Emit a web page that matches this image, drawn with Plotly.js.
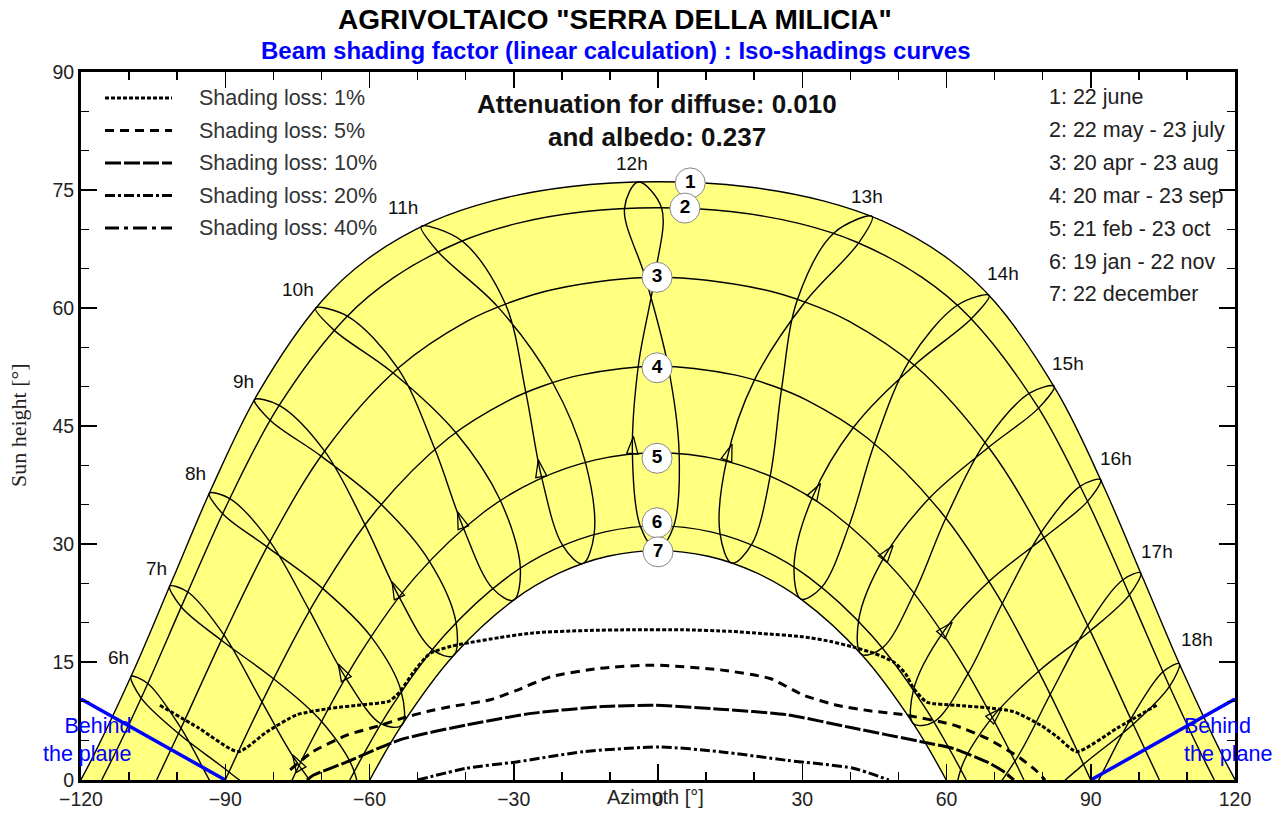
<!DOCTYPE html>
<html><head><meta charset="utf-8">
<script src="https://cdn.plot.ly/plotly-3.0.1.min.js"></script>
<style>html,body{margin:0;padding:0;background:#fff}#chart{width:1283px;height:817px}</style>
</head><body><div id="chart"></div>
<script>
// ---- sun path date curves (azimuth, height) ----
const d1Az = [-120.05,-117.44,-109.0,-100.97,-92.69,-83.14,-70.04,-60.47,-46.9,-34.37,-18.49,0,18.49,34.37,46.9,60.47,70.04,83.14,92.69,100.97,109.0,117.44,120.05];
const d1El = [0,3.04,13.98,25.48,37.31,49.20,60.79,66.20,71.0,73.62,75.42,76.04,75.42,73.62,71.0,66.20,60.79,49.20,37.31,25.48,13.98,3.04,0];
const d2Az = [-115.70,-111.96,-106.25,-97.92,-89.19,-78.96,-64.88,-54.83,-41.24,-29.51,-15.54,0,15.54,29.51,41.24,54.83,64.88,78.96,89.19,97.92,106.25,111.96,115.70];
const d2El = [0,4.58,12.08,23.72,35.60,47.45,58.80,63.93,68.39,70.72,72.23,72.75,72.23,70.72,68.39,63.93,58.80,47.45,35.60,23.72,12.08,4.58,0];
const d3Az = [-104.28,-99.02,-90.09,-80.49,-69.05,-53.70,-39.69,-31.16,-21.55,0,21.55,31.16,39.69,53.70,69.05,80.49,90.09,99.02,104.28];
const d3El = [0,6.83,18.70,30.56,42.05,52.52,58.33,60.63,62.39,63.90,62.39,60.63,58.33,52.52,42.05,30.56,18.70,6.83,0];
const d4Az = [-90,-80.76,-70.68,-58.73,-43.55,-30.93,-23.81,-16.18,0,16.18,23.81,30.93,43.55,58.73,70.68,80.76,90];
const d4El = [0,11.87,23.40,34.17,43.47,48.29,50.12,51.47,52.6,51.47,50.12,48.29,43.47,34.17,23.40,11.87,0];
const d5Az = [-76.10,-72.12,-62.12,-50.45,-36.31,-25.25,-12.99,0,12.99,25.25,36.31,50.45,62.12,72.12,76.10];
const d5El = [0,4.93,15.90,25.82,34.01,38.09,40.69,41.60,40.69,38.09,34.01,25.82,15.90,4.93,0];
const d6Az = [-64.11,-55.40,-44.35,-31.37,-21.58,-11.01,0,11.01,21.58,31.37,44.35,55.40,64.11];
const d6El = [0,9.32,18.43,25.76,29.31,31.54,32.30,31.54,29.31,25.76,18.43,9.32,0];
const d7Az = [-59.95,-53.19,-42.42,-29.88,-20.49,-10.44,0,10.44,20.49,29.88,42.42,53.19,59.95];
const d7El = [0,7.06,15.89,22.93,26.32,28.44,29.16,28.44,26.32,22.93,15.89,7.06,0];

// ---- hour lines (analemmas), Dec22 .. Nov22 ----
const h06Az = [-71.09,-75.46,-83.62,-91.52,-99.21,-106.12,-109.59,-107.48,-99.72,-89.22,-79.23,-71.98,-71.09];
const h06El = [-14.11,-14.69,-9.85,-1.99,6.58,12.26,13.17,10.40,5.90,1.02,-4.04,-9.94,-14.11];
const h07Az = [-62.65,-66.93,-74.67,-82.35,-90.28,-97.79,-101.55,-99.15,-90.81,-79.95,-70.01,-63.18,-62.65];
const h07El = [-3.15,-3.4,1.87,9.91,18.45,23.90,24.64,21.99,17.76,12.87,7.46,1.07,-3.15];
const h08Az = [-53.30,-57.65,-65.01,-72.48,-80.71,-89.05,-93.32,-90.54,-81.30,-69.76,-59.73,-53.40,-53.30];
const h08El = [6.95,7.16,13.06,21.53,30.31,35.78,36.45,33.85,29.64,24.36,18.25,11.24,6.95];
const h09Az = [-42.55,-46.98,-53.90,-60.95,-69.33,-78.78,-83.91,-80.66,-70.07,-57.59,-47.60,-42.02,-42.55];
const h09El = [15.80,16.60,23.34,32.47,41.81,47.63,48.35,45.73,41.17,35.04,27.87,20.06,15.80];
const h10Az = [-30.03,-34.45,-40.52,-46.43,-54.09,-64.61,-71.22,-67.44,-55.14,-42.07,-32.83,-28.63,-30.03];
const h10El = [22.86,24.39,32.11,42.10,52.32,58.97,59.98,57.22,51.76,44.17,35.59,26.97,22.86];
const h11Az = [-15.70,-19.87,-24.22,-27.50,-31.74,-40.75,-49.26,-45.89,-33.30,-21.92,-15.14,-13.28,-15.70];
const h11El = [27.50,29.86,38.53,49.32,60.50,68.51,70.37,67.24,60.14,50.53,40.47,31.26,27.50];
const h12Az = [-0.18,-3.66,-5.32,-4.12,-0.71,0.73,-4.11,-6.97,-2.63,2.11,4.40,3.25,-0.18];
const h12El = [29.16,32.22,41.45,52.53,63.90,72.75,76.01,72.64,63.87,52.58,41.50,32.23,29.16];
const h13Az = [15.36,12.89,14.28,20.12,30.58,41.73,44.54,36.59,29.02,25.70,23.36,19.48,15.36];
const h13El = [27.58,31.34,40.65,50.92,60.76,68.27,71.63,69.54,61.12,49.71,38.71,29.94,27.58];
const h14Az = [29.73,28.29,32.10,40.67,53.31,65.15,68.86,62.32,52.26,45.03,39.79,34.11,29.73];
const h14El = [23.00,27.13,35.92,44.84,52.73,58.63,61.60,60.38,53.28,42.77,32.43,24.55,23.00];
const h15Az = [42.29,41.72,47.00,56.51,68.77,79.14,82.37,77.26,68.03,59.87,53.30,46.68,42.29];
const h15El = [15.98,20.26,28.30,35.87,42.29,47.27,50.05,49.17,42.93,33.30,23.77,16.80,15.98];
const h16Az = [53.08,53.15,59.23,68.88,80.27,89.33,92.06,87.84,79.68,71.60,64.51,57.40,53.08];
const h16El = [7.17,11.48,18.74,25.27,30.81,35.42,38.17,37.35,31.48,22.44,13.55,7.40,7.17];
const h17Az = [62.45,62.96,69.57,79.17,89.90,98.05,100.39,96.69,89.37,81.57,74.23,66.71,62.45];
const h17El = [-2.9,1.33,7.99,13.83,18.95,23.54,26.32,25.45,19.64,10.87,2.40,-3.15,-2.9];
const h18Az = [70.9,71.77,78.81,88.48,98.83,106.38,108.41,105.02,98.32,90.78,83.21,75.25,70.9];
const h18El = [-13.85,-9.66,-3.49,1.99,7.08,11.90,14.79,13.76,7.76,-1.02,-9.29,-14.41,-13.85];

// ---- iso-shading curves ----
const iso1Az = [-103.6,-95.5,-87.3,-81.4,-75.1,-68.2,-61.0,-56.0,-53.7,-51.0,-47.4,-43.0,-39.8,-33.0,-26.0,-15.0,-5.0,5.0,15.0,22.0,30.2,36.0,40.6,45.0,49.0,51.5,53.1,55.9,62.0,68.3,73.9,79.5,83.0,87.1,95.5,103.7];
const iso1El = [9.5,6.6,3.6,6.1,8.3,9.1,9.6,10.0,11.2,13.6,16.1,17.0,17.4,18.1,18.7,19.0,19.1,19.1,18.9,18.6,18.2,17.6,16.9,16.1,15.0,13.5,11.7,9.9,9.5,9.2,8.7,7.0,5.5,3.6,6.6,9.5];
const iso5Az = [-76.5,-71.8,-64.7,-58.0,-53.0,-48.0,-43.3,-34.9,-29.4,-22.5,-12.1,-1.0,13.0,23.3,30.2,37.2,44.0,51.0,61.4,68.4,75.3,78.8,80.5];
const iso5El = [1.3,3.6,5.7,6.9,7.9,8.7,9.3,10.2,11.4,13.1,14.2,14.6,14.0,12.9,10.8,9.5,8.8,8.3,7.0,5.3,2.8,1.1,0];
const iso10Az = [-73.0,-71.7,-64.7,-53.7,-39.8,-25.9,-12.1,-1.0,12.9,26.8,40.6,54.5,61.4,68.4,71.8,74.0];
const iso10El = [0,0.6,2.3,5.1,7.0,8.5,9.3,9.5,9.0,8.3,6.6,4.9,4.0,2.3,1.1,0];
const iso20Az = [-50,-39.8,-29.4,-15.5,0.4,12.9,26.8,40.6,48];
const iso20El = [0,1.5,2.3,3.6,4.2,3.6,2.5,1.5,0];

// ---- "behind the plane" limits ----
const planeLeftAz = [-120,-90];
const planeLeftEl = [10.3,0];
const planeRightAz = [90,120];
const planeRightEl = [0,10.3];

// ---- direction arrows on hour lines ----
const arrowAz = [-76.0,-66.5,-55.3,-41.7,-24.9,-5.1,15.4,33.8,48.9,61.2,71.5];
const arrowEl = [3.2,14.75,25.17,34.11,40.69,43.67,42.70,37.70,29.81,20.05,9.16];
const arrowAngle = [-30,-28,-25,-20,-10,4,19,30,37,42,45];

// ---- labels ----
const hourLabels = ['6h','7h','8h','9h','10h','11h','12h','13h','14h','15h','16h','17h','18h'];
const hourLabelAz = [-112.3,-104.2,-96.1,-86.3,-74.9,-53.0,-5.4,43.5,71.8,85.3,95.3,103.8,112.1];
const hourLabelEl = [15.6,26.9,39.0,50.7,62.3,72.8,78.4,74.2,64.4,52.9,40.9,29.1,17.8];
const dateNums = ['1','2','3','4','5','6','7'];
const dateNumAz = [6.7,5.6,-0.2,-0.2,-0.2,-0.2,0];
const dateNumEl = [75.9,72.7,63.9,52.4,40.9,32.7,29.0];
const dateLegend = ['1: 22 june','2: 22 may - 23 july','3: 20 apr - 23 aug','4: 20 mar - 23 sep','5: 21 feb - 23 oct','6: 19 jan - 22 nov','7: 22 december'];
const lossLabels = ['Shading loss: 1%','Shading loss: 5%','Shading loss: 10%','Shading loss: 20%','Shading loss: 40%'];
const lossDash = ['4px,2px','9px,6px','16px,3px','10px,3px,3px,3px','14px,5px,4px,5px'];

// ---- page geometry (pixels) ----
const W = 1283, H = 817, ML = 81, MR = 48, MT = 72, MB = 37;
const PW = W - ML - MR, PH = H - MT - MB;
const pxX = x => (x - ML) / PW;
const pxY = y => (H - MB - y) / PH;
const FONT = 'Liberation Sans, Arial, sans-serif';

const thin = {color:'#000', width:1.4, shape:'spline', smoothing:1};
const traces = [];
traces.push({x:d7Az, y:d7El, mode:'lines', line:{width:0, shape:'spline'}, hoverinfo:'skip'});
traces.push({x:d1Az, y:d1El, mode:'lines', line:{width:0, shape:'spline'}, fill:'tonexty', fillcolor:'#ffff80', hoverinfo:'skip'});
[[d1Az,d1El],[d2Az,d2El],[d3Az,d3El],[d4Az,d4El],[d5Az,d5El],[d6Az,d6El],[d7Az,d7El]].forEach(c=>{
  traces.push({x:c[0], y:c[1], mode:'lines', line:thin, hoverinfo:'skip'});
});
[[h06Az,h06El],[h07Az,h07El],[h08Az,h08El],[h09Az,h09El],[h10Az,h10El],[h11Az,h11El],[h12Az,h12El],
 [h13Az,h13El],[h14Az,h14El],[h15Az,h15El],[h16Az,h16El],[h17Az,h17El],[h18Az,h18El]].forEach(c=>{
  traces.push({x:c[0], y:c[1], mode:'lines', line:thin, hoverinfo:'skip'});
});
traces.push({x:arrowAz, y:arrowEl, mode:'markers', hoverinfo:'skip',
  marker:{symbol:'arrow-open', size:18, angle:arrowAngle, color:'#000', line:{color:'#000', width:1.3}}});
[[iso1Az,iso1El,0],[iso5Az,iso5El,1],[iso10Az,iso10El,2],[iso20Az,iso20El,3]].forEach(c=>{
  traces.push({x:c[0], y:c[1], mode:'lines', hoverinfo:'skip',
    line:{color:'#000', width:3, dash:lossDash[c[2]], shape:'spline', smoothing:0.6}});
});
traces.push({x:planeLeftAz, y:planeLeftEl, mode:'lines', line:{color:'#0000ff', width:3.5}, hoverinfo:'skip'});
traces.push({x:planeRightAz, y:planeRightEl, mode:'lines', line:{color:'#0000ff', width:3.5}, hoverinfo:'skip'});
traces.push({x:dateNumAz, y:dateNumEl, mode:'markers+text', text:dateNums, textposition:'middle center',
  textfont:{family:FONT, size:19, color:'#000', weight:'bold'}, hoverinfo:'skip', cliponaxis:false,
  marker:{size:30, color:'#fff', line:{color:'#888', width:1}}});

const annotations = [];
const ann = (o) => annotations.push(Object.assign({showarrow:false, xanchor:'center', yanchor:'middle'}, o));
hourLabels.forEach((t,i)=>ann({x:hourLabelAz[i], y:hourLabelEl[i], xref:'x', yref:'y', text:t,
  font:{family:FONT, size:19, color:'#111'}}));
dateLegend.forEach((t,i)=>ann({x:pxX(1047), y:pxY(97 + i*32.9), xref:'paper', yref:'paper', text:t,
  xanchor:'left', font:{family:FONT, size:21.5, color:'#222'}}));
lossLabels.forEach((t,i)=>ann({x:pxX(197), y:pxY(98 + i*32.5), xref:'paper', yref:'paper', text:t,
  xanchor:'left', font:{family:FONT, size:21.5, color:'#333'}}));
ann({x:pxX(657), y:pxY(104), xref:'paper', yref:'paper', text:'Attenuation for diffuse: 0.010',
  font:{family:FONT, size:26, color:'#111', weight:'bold'}});
ann({x:pxX(657), y:pxY(137), xref:'paper', yref:'paper', text:'and albedo: 0.237',
  font:{family:FONT, size:26, color:'#111', weight:'bold'}});
ann({x:pxX(615), y:pxY(20), xref:'paper', yref:'paper', text:'AGRIVOLTAICO "SERRA DELLA MILICIA"',
  font:{family:FONT, size:28, color:'#000', weight:'bold'}});
ann({x:pxX(616), y:pxY(50), xref:'paper', yref:'paper', text:'Beam shading factor (linear calculation) : Iso-shadings curves',
  font:{family:FONT, size:24, color:'#0000ff', weight:'bold'}});
ann({x:pxX(133), y:pxY(740), xref:'paper', yref:'paper', text:'Behind<br>the plane',
  xanchor:'right', align:'right', font:{family:FONT, size:21.5, color:'#0000ff'}});
ann({x:pxX(1182), y:pxY(740), xref:'paper', yref:'paper', text:'Behind<br>the plane',
  xanchor:'left', align:'left', font:{family:FONT, size:21.5, color:'#0000ff'}});
ann({x:pxX(655), y:pxY(797), xref:'paper', yref:'paper', text:'Azimuth [°]',
  font:{family:FONT, size:20, color:'#222'}});
ann({x:pxX(18), y:pxY(425), xref:'paper', yref:'paper', text:'Sun height [°]', textangle:-90,
  font:{family:'Liberation Serif, Times New Roman, serif', size:22, color:'#222'}});

const shapes = lossDash.map((d,i)=>({type:'line', xref:'paper', yref:'paper',
  x0:pxX(105), x1:pxX(172), y0:pxY(98 + i*32.5), y1:pxY(98 + i*32.5),
  line:{color:'#000', width:3, dash:d}}));

const axisCommon = {showgrid:false, zeroline:false, showline:true, linecolor:'#000', linewidth:3, mirror:'ticks',
  ticks:'inside', tickcolor:'#000', tickwidth:1.5, ticklen:16,
  tickfont:{family:FONT, size:19.5, color:'#222'}};
const layout = {
  width:W, height:H, margin:{l:ML, r:MR, t:MT, b:MB, pad:0},
  paper_bgcolor:'#fff', plot_bgcolor:'#fff', showlegend:false,
  xaxis:Object.assign({}, axisCommon, {range:[-120,120], tick0:0, dtick:30, fixedrange:true,
    minor:{dtick:10, ticks:'inside', ticklen:8, tickcolor:'#000', tickwidth:1.5}}),
  yaxis:Object.assign({}, axisCommon, {range:[0,90], tick0:0, dtick:15, fixedrange:true,
    minor:{dtick:5, ticks:'inside', ticklen:8, tickcolor:'#000', tickwidth:1.5}}),
  annotations:annotations, shapes:shapes
};
Plotly.newPlot('chart', traces, layout, {staticPlot:true, displayModeBar:false});
</script></body></html>
